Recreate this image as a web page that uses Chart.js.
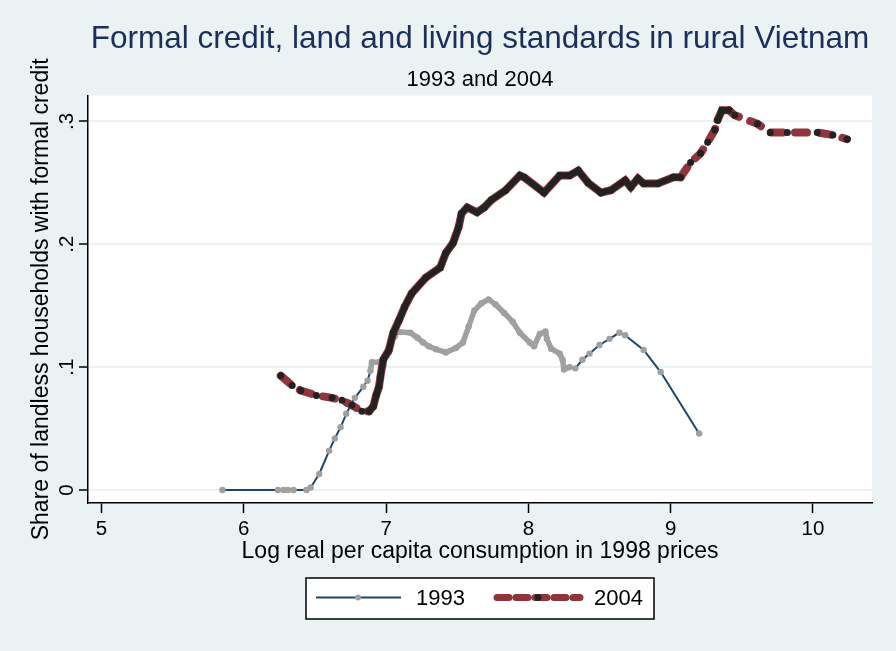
<!DOCTYPE html>
<html>
<head>
<meta charset="utf-8">
<script src="https://cdn.jsdelivr.net/npm/chart.js@4.4.1/dist/chart.umd.min.js"></script>
<style>
  html, body { margin: 0; padding: 0; background: #eaf2f3; }
  #wrap { width: 896px; height: 651px; }
</style>
</head>
<body>
<div id="wrap"><canvas id="creditChart" width="896" height="651"></canvas></div>
<script>
const titleText = 'Formal credit, land and living standards in rural Vietnam';
const subtitleText = '1993 and 2004';
const xTitle = 'Log real per capita consumption in 1998 prices';
const yTitle = 'Share of landless households with formal credit';

const xTicks = [5, 6, 7, 8, 9, 10];
const yTicks = [0, 0.1, 0.2, 0.3];
const yTickLabels = ['0', '.1', '.2', '.3'];
const seriesNames = ['1993', '2004'];

// 1993: log consumption vs share with formal credit
const cons1993 = [5.85, 6.24, 6.28, 6.31, 6.35, 6.44, 6.47, 6.53, 6.60, 6.64, 6.68, 6.72, 6.78, 6.84, 6.87,
  6.89, 6.90, 6.95, 6.98, 7.02, 7.06, 7.10, 7.17, 7.22, 7.26, 7.30, 7.35, 7.42, 7.49, 7.54, 7.58, 7.62,
  7.67, 7.72, 7.77, 7.83, 7.89, 7.94, 8.01, 8.04, 8.08, 8.12, 8.13, 8.16, 8.22, 8.24, 8.25, 8.29, 8.33,
  8.38, 8.43, 8.50, 8.57, 8.64, 8.68, 8.81, 8.93, 9.20];
const share1993 = [0, 0, 0, 0, 0, 0, 0.002, 0.013, 0.032, 0.042, 0.051, 0.062, 0.075, 0.084, 0.089,
  0.097, 0.104, 0.104, 0.101, 0.112, 0.125, 0.1285, 0.128, 0.124, 0.120, 0.117, 0.1146, 0.112, 0.1155,
  0.120, 0.133, 0.146, 0.152, 0.155, 0.151, 0.144, 0.137, 0.128, 0.120, 0.117, 0.127, 0.129, 0.123,
  0.115, 0.111, 0.106, 0.098, 0.100, 0.099, 0.106, 0.111, 0.118, 0.123, 0.128, 0.126, 0.114, 0.096, 0.046];

// 2004
const cons2004 = [6.26, 6.34, 6.40, 6.51, 6.62, 6.69, 6.76, 6.83, 6.88, 6.91, 6.93, 6.95, 6.96, 6.98,
  7.02, 7.05, 7.09, 7.13, 7.18, 7.28, 7.38, 7.42, 7.47, 7.51, 7.53, 7.57, 7.64, 7.69, 7.74, 7.84, 7.94,
  7.97, 8.11, 8.22, 8.29, 8.35, 8.42, 8.51, 8.58, 8.68, 8.72, 8.77, 8.81, 8.91, 9.02, 9.07, 9.14, 9.21,
  9.26, 9.31, 9.33, 9.36, 9.41, 9.45, 9.61, 9.70, 9.82, 10.03, 10.14, 10.24];
const share2004 = [0.093, 0.085, 0.081, 0.077, 0.075, 0.073, 0.069, 0.064, 0.064, 0.068, 0.077, 0.084,
  0.092, 0.106, 0.114, 0.128, 0.138, 0.149, 0.160, 0.173, 0.181, 0.193, 0.201, 0.214, 0.225, 0.230,
  0.226, 0.230, 0.236, 0.244, 0.256, 0.2545, 0.242, 0.256, 0.256, 0.260, 0.250, 0.242, 0.244, 0.252,
  0.2465, 0.2535, 0.2495, 0.2495, 0.2545, 0.2545, 0.2665, 0.274, 0.283, 0.293, 0.301, 0.309, 0.309,
  0.305, 0.298, 0.291, 0.291, 0.291, 0.289, 0.2855];

const FONT = '"Liberation Sans", Arial, sans-serif';
const BLUE = '#1a476f';
const GREY = '#a0a0a0';
const MAROON = '#90353b';
const DARK = '#222222';

const pts = (xs, ys) => xs.map((x, i) => ({ x: x, y: ys[i] }));

// stretches where the markers are so dense that the line takes the marker colour
const isDense04 = x => (x >= 6.86 && x <= 9.08) || (x >= 9.32 && x <= 9.42);
const isDense93 = x => (x >= 6.89 && x <= 6.96) || (x >= 7.09 && x <= 8.30);
const seg = (c, test) => test(c.p0.parsed.x) && test(c.p1.parsed.x);

const plotBg = {
  id: 'plotBg',
  beforeDraw(chart) {
    const { ctx, chartArea: a } = chart;
    ctx.save();
    ctx.fillStyle = '#ffffff';
    ctx.fillRect(a.left, a.top, a.right - a.left, a.bottom - a.top);
    ctx.restore();
  }
};

const legendBox = {
  id: 'legendBox',
  afterDraw(chart) {
    const { ctx, chartArea: a } = chart;
    const w = 348, h = 41;
    const left = (a.left + a.right) / 2 - w / 2;
    const top = 578;
    const cy = top + h / 2 - 1;
    ctx.save();
    ctx.fillStyle = '#ffffff';
    ctx.fillRect(left, top, w, h);
    ctx.strokeStyle = '#000';
    ctx.lineWidth = 1.5;
    ctx.strokeRect(left, top, w, h);

    // 1993 sample
    ctx.strokeStyle = BLUE;
    ctx.lineWidth = 2;
    ctx.beginPath();
    ctx.moveTo(left + 10, cy);
    ctx.lineTo(left + 95, cy);
    ctx.stroke();
    ctx.fillStyle = GREY;
    ctx.beginPath();
    ctx.arc(left + 52, cy, 3, 0, Math.PI * 2);
    ctx.fill();

    // 2004 sample
    ctx.strokeStyle = MAROON;
    ctx.lineWidth = 7;
    ctx.lineCap = 'round';
    ctx.setLineDash([12, 7]);
    ctx.beginPath();
    ctx.moveTo(left + 191, cy);
    ctx.lineTo(left + 274, cy);
    ctx.stroke();
    ctx.setLineDash([]);
    ctx.fillStyle = DARK;
    ctx.beginPath();
    ctx.arc(left + 232, cy, 3.5, 0, Math.PI * 2);
    ctx.fill();

    ctx.fillStyle = '#000';
    ctx.font = '22px ' + FONT;
    ctx.textBaseline = 'middle';
    ctx.textAlign = 'left';
    ctx.fillText(seriesNames[0], left + 110, cy + 1);
    ctx.fillText(seriesNames[1], left + 288, cy + 1);
    ctx.restore();
  }
};

new Chart(document.getElementById('creditChart'), {
  type: 'line',
  data: {
    datasets: [
      {
        label: seriesNames[0],
        data: pts(cons1993, share1993),
        order: 2,
        borderColor: BLUE,
        borderWidth: 2,
        borderCapStyle: 'round',
        borderJoinStyle: 'round',
        pointRadius: 3.2,
        pointBackgroundColor: GREY,
        pointBorderWidth: 0,
        tension: 0,
        segment: {
          borderColor: c => seg(c, isDense93) ? GREY : BLUE,
          borderWidth: c => seg(c, isDense93) ? 5.5 : 2
        }
      },
      {
        label: seriesNames[1],
        data: pts(cons2004, share2004),
        order: 1,
        borderColor: MAROON,
        borderWidth: 8,
        borderCapStyle: 'round',
        pointRadius: 0,
        tension: 0,
        segment: {
          borderDash: c => seg(c, isDense04) ? [] : [12, 12]
        }
      },
      {
        label: seriesNames[1] + ' markers',
        data: pts(cons2004, share2004),
        order: 0,
        borderColor: DARK,
        borderWidth: 6,
        borderCapStyle: 'round',
        pointRadius: 3.5,
        pointBackgroundColor: DARK,
        pointBorderWidth: 0,
        tension: 0,
        segment: {
          borderColor: c => seg(c, isDense04) ? DARK : 'rgba(0,0,0,0)'
        }
      }
    ]
  },
  options: {
    responsive: false,
    animation: false,
    layout: { padding: { top: 0, right: 24, bottom: 86, left: 0 } },
    plugins: {
      legend: { display: false },
      tooltip: { enabled: false },
      title: {
        display: true,
        text: titleText,
        fullSize: false,
        color: '#1c2e5c',
        font: { family: FONT, size: 31.5, weight: 'normal' },
        padding: { top: 20.2, bottom: 9 }
      },
      subtitle: {
        display: true,
        text: subtitleText,
        fullSize: false,
        color: '#000',
        font: { family: FONT, size: 22, weight: 'normal' },
        padding: { top: 0, bottom: 2.2 }
      }
    },
    scales: {
      x: {
        type: 'linear',
        min: 4.905,
        max: 10.415,
        afterBuildTicks: s => { s.ticks = xTicks.map(v => ({ value: v })); },
        afterFit: s => { s.height = 62; },
        border: { display: true, color: '#000', width: 1.5 },
        grid: { drawOnChartArea: false, drawTicks: true, tickLength: 10, tickColor: '#000', tickWidth: 1.5 },
        ticks: { color: '#000', font: { family: FONT, size: 20.5, lineHeight: 1 }, padding: 6, maxRotation: 0 },
        title: {
          display: true,
          text: xTitle,
          color: '#000',
          font: { family: FONT, size: 23, lineHeight: 1.2 },
          padding: { top: 0, bottom: 0 }
        }
      },
      y: {
        type: 'linear',
        min: -0.0106,
        max: 0.321,
        afterBuildTicks: s => { s.ticks = yTicks.map(v => ({ value: v })); },
        afterFit: s => { s.width = 88; },
        border: { display: true, color: '#000', width: 1.5 },
        grid: { color: '#eaf2f3', lineWidth: 2, tickLength: 9, tickColor: '#000', tickWidth: 1.5 },
        ticks: {
          color: '#000',
          font: { family: FONT, size: 20.5 },
          padding: 3,
          minRotation: 90,
          maxRotation: 90,
          crossAlign: 'center',
          callback: v => {
            const i = yTicks.findIndex(t => Math.abs(t - v) < 1e-9);
            return i >= 0 ? yTickLabels[i] : '';
          }
        },
        title: {
          display: true,
          text: yTitle,
          color: '#000',
          font: { family: FONT, size: 23, lineHeight: 1.2 },
          padding: { top: 27.5, bottom: 0 }
        }
      }
    }
  },
  plugins: [plotBg, legendBox]
});
</script>
</body>
</html>
